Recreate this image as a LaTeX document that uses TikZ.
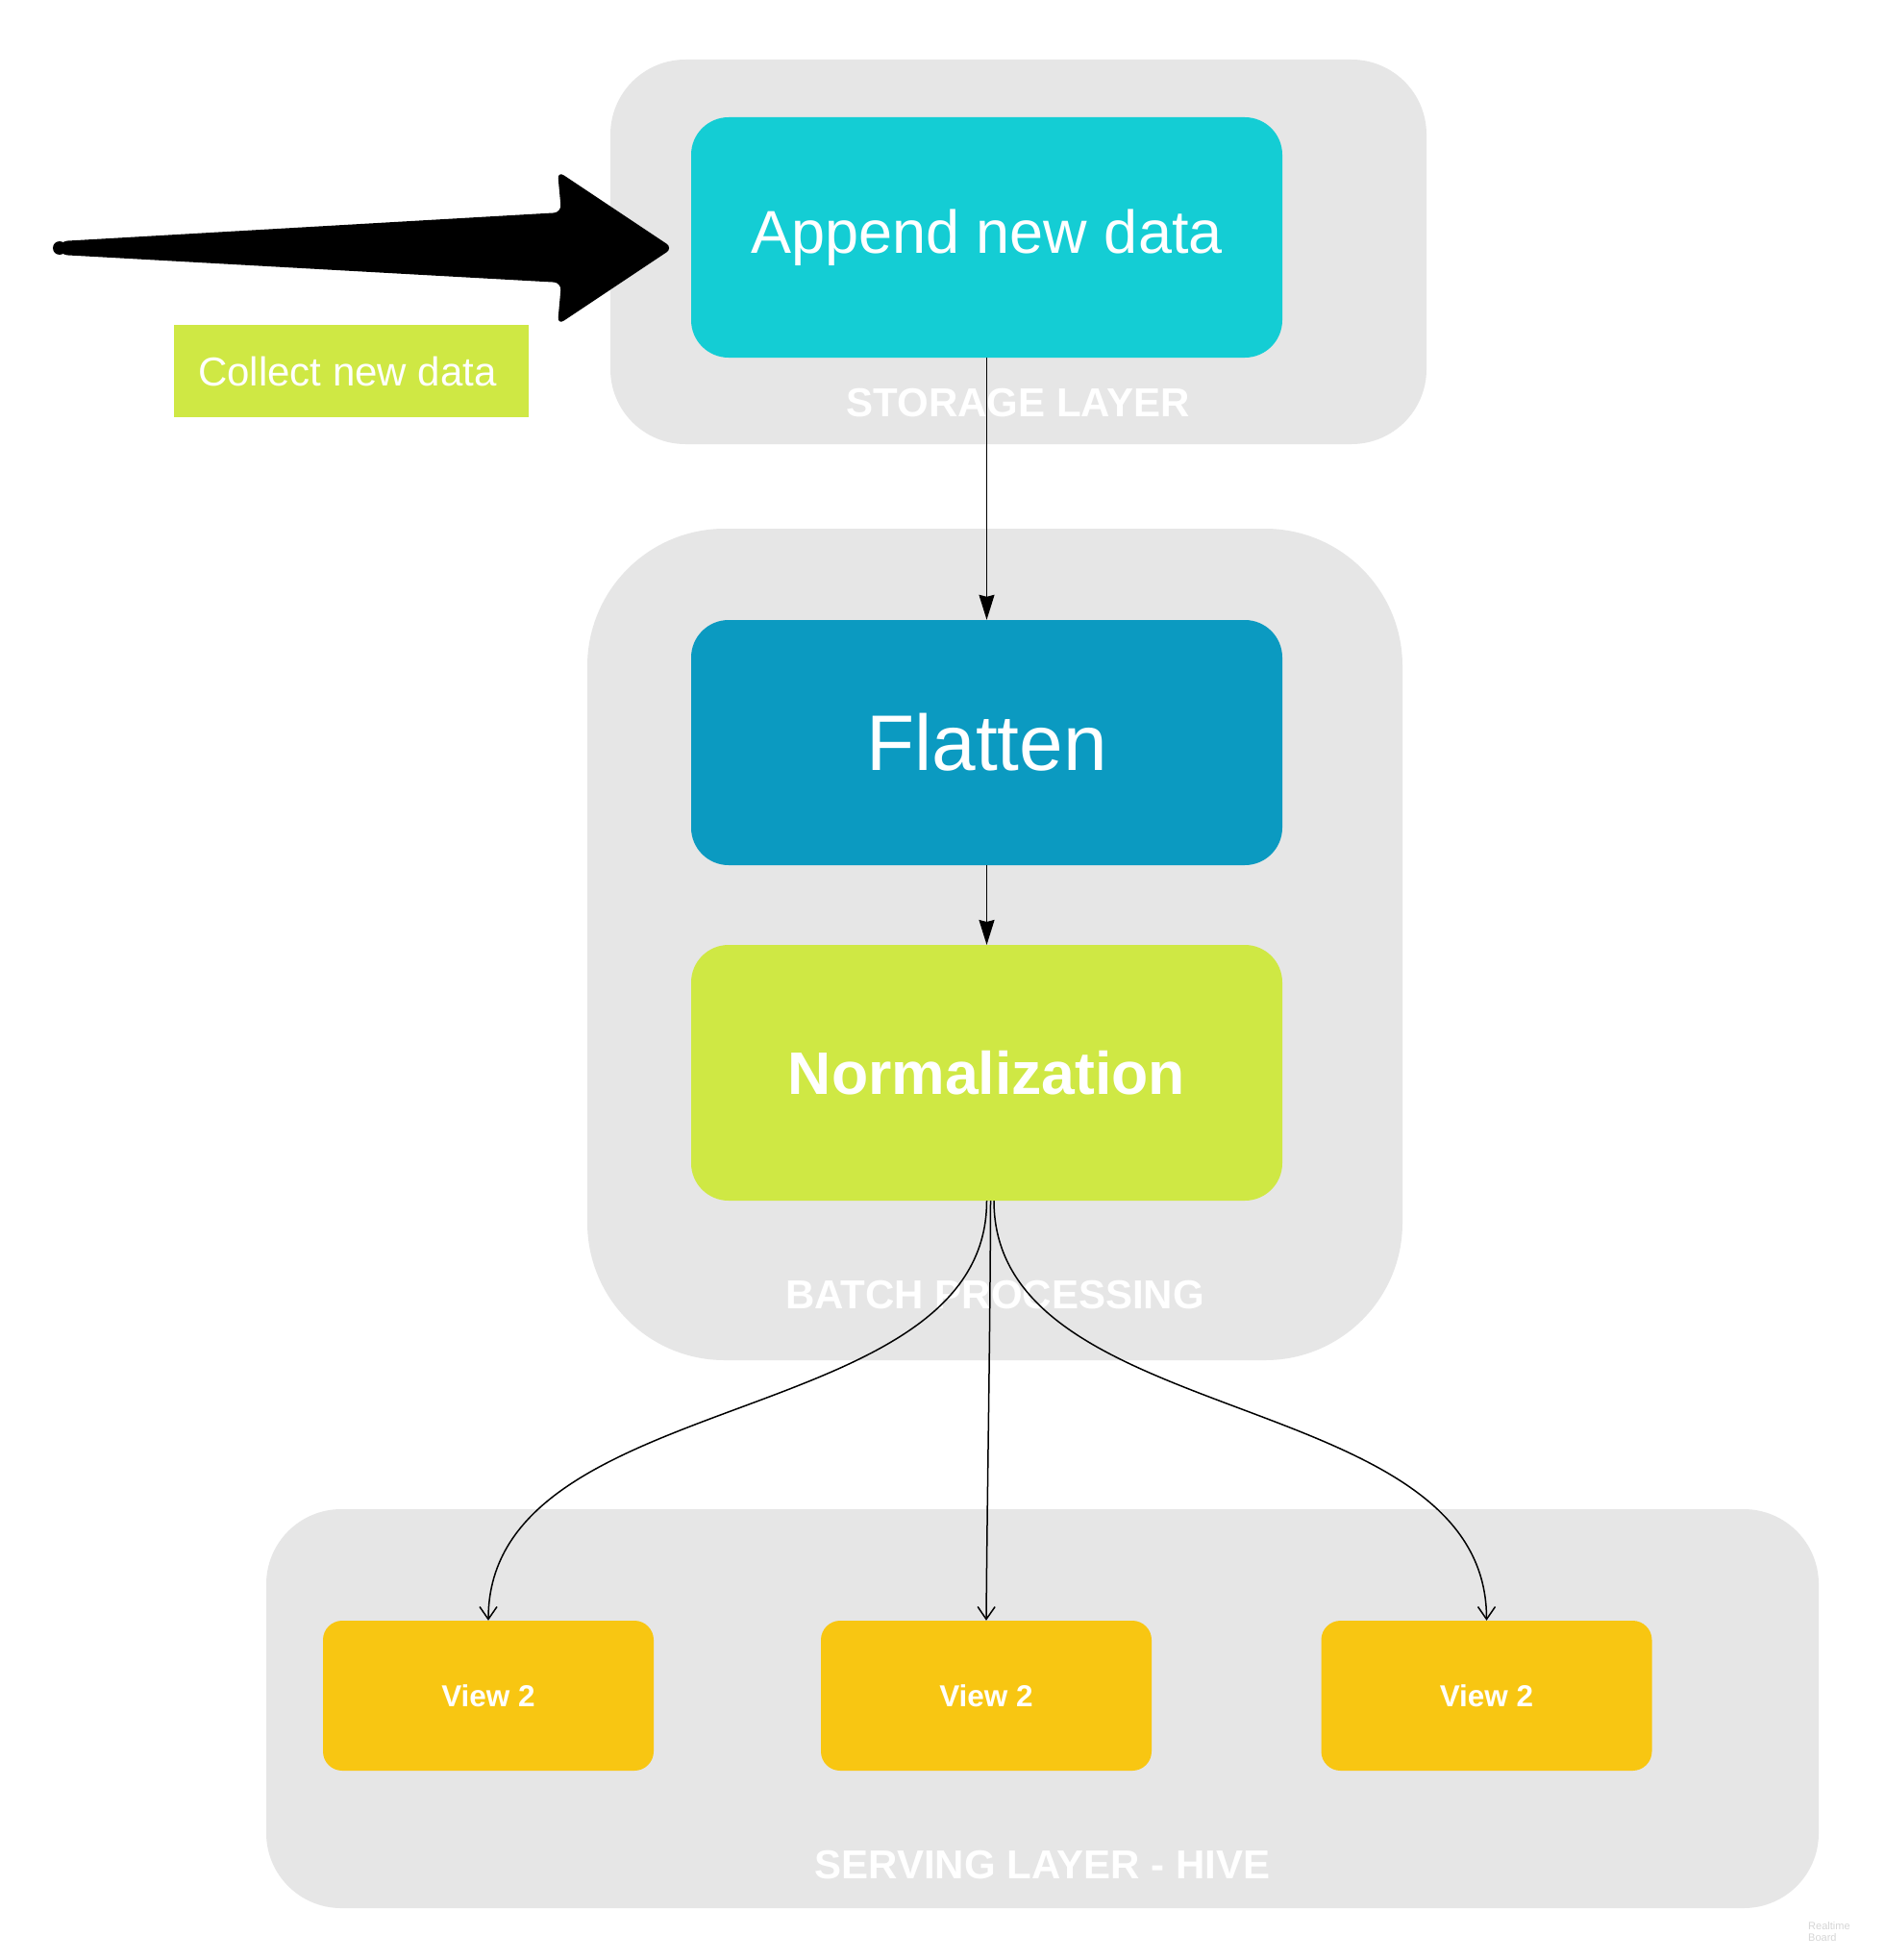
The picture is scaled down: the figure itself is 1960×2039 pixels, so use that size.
\documentclass[tikz,border=0pt]{standalone}
\usepackage{fontspec}
\setmainfont{Liberation Sans}
\usetikzlibrary{arrows.meta}
\definecolor{grp}{HTML}{E6E6E6}
\definecolor{cyanbox}{HTML}{14CDD4}
\definecolor{bluebox}{HTML}{0B9AC1}
\definecolor{limebox}{HTML}{CFE844}
\definecolor{yellowbox}{HTML}{F8C612}
\definecolor{wmark}{HTML}{D6D6D6}
\begin{document}
\begin{tikzpicture}[x=1pt,y=-1pt,
  container/.style={fill=grp, draw=none, inner sep=0pt},
  procbox/.style={draw=none, inner sep=0pt, minimum width=615pt, rounded corners=39pt, text=white},
  viewbox/.style={fill=yellowbox, draw=none, inner sep=0pt, minimum width=344pt, minimum height=156pt, rounded corners=20pt, text=white, font=\bfseries\fontsize{31.5}{36}\selectfont},
  layerlabel/.style={text=white, inner sep=0pt, font=\bfseries\fontsize{42}{48}\selectfont},
  thinline/.style={draw=black, line width=1.5pt},
  filledhead/.style={thinline, -{Stealth[length=26pt,width=16pt,inset=2pt]}},
  openhead/.style={thinline, -{Straight Barb[length=13pt,width=18pt,line width=1.5pt]}}
]
\useasboundingbox[fill=white] (0,0) rectangle (1960,2039);

% containers
\node[container, minimum width=849pt, minimum height=400pt, rounded corners=78pt] (storage) at (1059.5,262) {};
\node[container, minimum width=848pt, minimum height=865pt, rounded corners=143pt] (batch) at (1035,982.5) {};
\node[container, minimum width=1615pt, minimum height=415pt, rounded corners=78pt] (serving) at (1084.5,1777.5) {};

% layer labels
\node[layerlabel] (storagelbl) at (1059,419) {STORAGE LAYER};
\node[layerlabel] (batchlbl) at (1035,1347) {BATCH PROCESSING};
\node[layerlabel] (servinglbl) at (1084.5,1940) {SERVING LAYER - HIVE};

% process boxes
\node[procbox, fill=cyanbox, minimum height=250pt, font=\fontsize{63}{70}\selectfont] (append) at (1026.5,247) {Append new data};
\node[procbox, fill=bluebox, minimum height=255pt, font=\fontsize{82}{90}\selectfont] (flatten) at (1026.5,772.5) {Flatten};
\node[procbox, fill=limebox, minimum height=266pt, font=\bfseries\fontsize{62.5}{70}\selectfont] (norm) at (1026.5,1116) {Normalization};

% views
\node[viewbox] (view1) at (508,1764) {View 2};
\node[viewbox] (view2) at (1026,1764) {View 2};
\node[viewbox] (view3) at (1546.5,1764) {View 2};

% collect label
\node[fill=limebox, inner sep=0pt, minimum width=369pt, minimum height=96pt, text=white, font=\fontsize{42}{48}\selectfont] (collect) at (365.5,386) {\hspace*{-8pt}Collect new data};

% big arrow shape
\coordinate (bigtail) at (62,258);
\coordinate (bigtip) at (700,258);
\fill[black, rounded corners=8pt]
  (62,251) -- (584,221) -- (580,178) -- (bigtip) -- (580,338) -- (584,294) -- (62,265) -- cycle;
\fill[black] (bigtail) circle (7pt);

% connectors
\draw[filledhead] (append.south) -- (flatten.north);
\draw[filledhead] (flatten.south) -- (norm.south |- 0,983);
\draw[openhead] (norm.south) .. controls (1026.5,1490) and (508,1440) .. (view1.north);
\draw[openhead] ([xshift=4pt]norm.south) .. controls (1030,1400) and (1027,1550) .. (view2.north);
\draw[openhead] ([xshift=7.5pt]norm.south) .. controls (1034,1490) and (1546.5,1440) .. (view3.north);

% watermark
\node[text=wmark, align=left, anchor=north west, inner sep=0pt, font=\fontsize{11}{12}\selectfont] (watermark) at (1881,1999) {Realtime\\Board};
\end{tikzpicture}
\end{document}
